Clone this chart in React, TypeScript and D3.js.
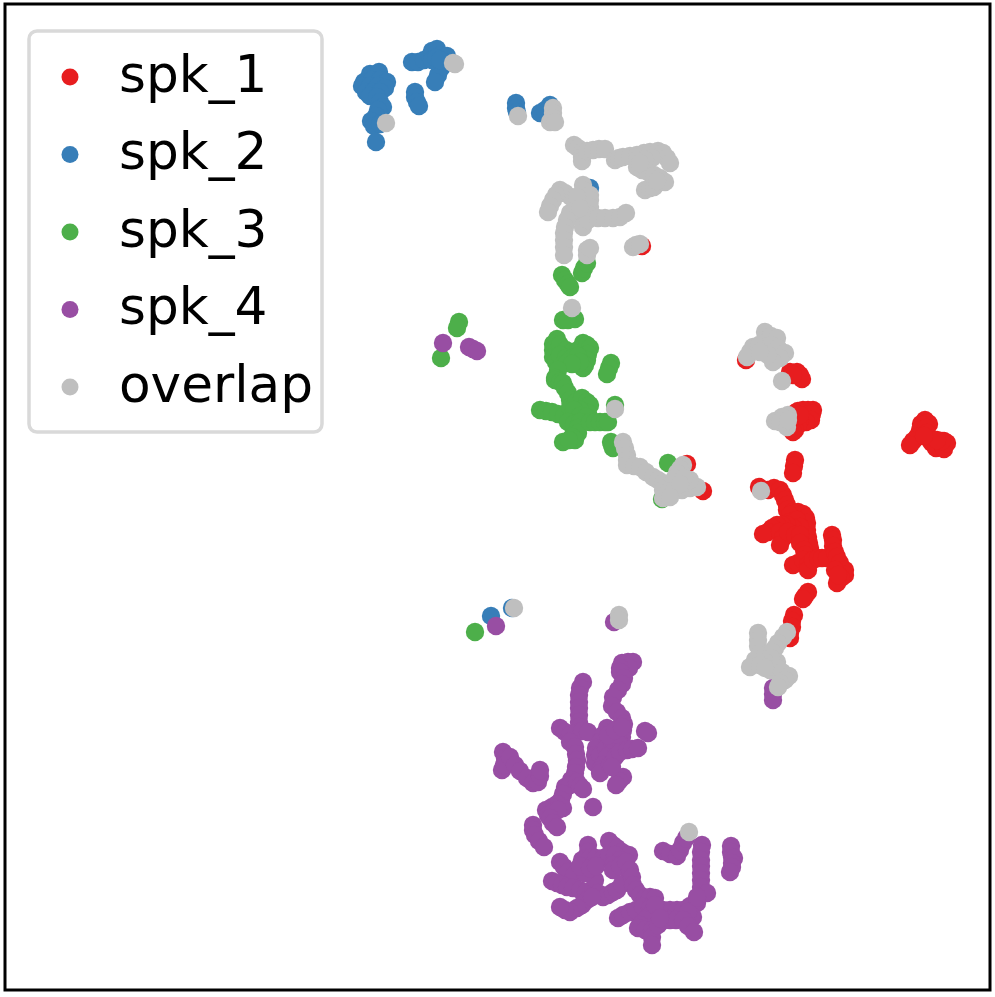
import React from "react";
import * as d3 from "d3";

type Pt = [number, number];

// embedding coordinates
const spk1: Pt[] = [
  [746,360],[790,372],[797,372],[800,375],[802,379],[793,375],
  [813,410],[808,410],[803,410],[798,411],[795,413],[806,415],[812,414],[811,420],[806,422],[800,420],[798,425],[795,430],[793,432],[800,415],[790,420],
  [795,460],[794,466],[793,473],[759,487],
  [768,490],[774,488],[780,490],[783,495],[785,500],[787,505],[787,510],[793,512],[798,512],[803,514],[806,518],[807,523],[807,530],[808,537],[809,543],[810,548],[810,555],
  [790,515],[790,522],[797,520],[800,527],[793,528],[787,525],[782,525],[777,525],[772,528],[768,532],[763,534],[780,532],[783,538],[780,545],[788,532],[795,535],[800,535],[800,543],[804,550],[805,555],
  [793,565],[798,563],[803,560],[808,565],[808,570],[813,560],[818,558],[822,558],[827,558],
  [832,535],[833,540],[833,546],[835,552],[837,557],[840,563],[845,570],[845,575],[841,578],[837,583],[835,570],[838,575],
  [808,592],[805,596],[803,599],[794,615],[792,621],[792,627],[790,633],[790,638],
  [925,420],[921,424],[929,424],[928,423],[922,425],[920,430],[926,428],[917,437],[913,441],[910,445],[927,433],[930,440],[932,443],[937,445],[936,448],[943,447],[944,449],[944,441],[947,443],[942,441],[937,440],[924,436],
  [642,246],[687,464],[703,491],
];
const spk2: Pt[] = [
  [370,74],[379,72],[364,82],[372,80],[380,80],[387,82],[362,86],[370,86],[378,86],[385,88],[366,92],[373,92],[380,92],[370,96],[377,97],[380,102],[383,107],[378,110],[376,116],[371,121],[374,126],[380,124],[376,142],
  [412,62],[418,62],[424,60],[430,56],[432,51],[437,49],[441,55],[447,56],[443,62],[441,68],[438,75],[435,82],[432,60],[436,58],[440,60],
  [415,92],[415,97],[417,102],[419,106],
  [516,103],[516,108],[517,112],[540,113],[545,110],[550,105],[590,188],[491,616],[512,608],
];
const spk3: Pt[] = [
  [459,322],[457,328],[441,358],[582,273],[584,268],[587,263],[562,275],[565,280],[568,284],[570,287],[563,320],[575,319],[568,320],
  [557,339],[553,344],[553,350],[553,357],[556,362],[560,345],[566,350],[572,352],[578,350],[583,343],[587,345],[590,348],[588,354],[587,360],[585,365],[583,368],
  [560,355],[566,358],[572,358],[578,356],[580,362],[567,363],[572,364],[558,370],[555,378],[555,380],[560,382],[563,383],[565,388],[568,393],[570,400],
  [611,363],[609,368],[607,374],
  [540,410],[546,411],[552,412],[558,414],[564,416],[570,407],[576,402],[582,398],[587,402],[590,405],[588,413],[580,410],[574,410],[580,416],[586,417],
  [568,422],[574,424],[580,422],[578,428],[578,433],[572,437],[575,440],[563,442],[569,440],[590,422],[595,422],[600,422],[605,422],[608,422],
  [615,405],[611,442],[612,445],[613,448],[668,463],[662,499],[475,632],
];
const spk4: Pt[] = [
  [443,343],[469,347],[473,349],[477,351],[496,626],[614,622],[773,688],[773,694],[773,700],
  [622,663],[628,662],[633,662],[629,668],[620,668],[620,672],[624,678],[622,684],[618,690],[613,697],[612,706],[617,712],[622,718],[624,724],[623,730],[622,737],
  [583,682],[580,688],[579,695],[579,702],[579,708],[579,715],[579,722],[579,727],
  [560,728],[565,732],[570,735],[576,733],[582,731],[588,732],[570,742],[575,747],[576,754],[577,760],[576,767],[575,773],[571,780],[565,787],[570,785],[577,782],[580,786],[583,789],
  [607,728],[603,735],[600,742],[596,748],[595,755],[595,763],[600,755],[606,748],[612,742],[618,738],[620,745],[613,752],[607,757],[603,765],[600,770],[600,773],[610,765],[615,757],[620,752],[627,750],[632,749],[638,748],[608,735],[615,730],[622,727],
  [645,731],[648,733],[623,777],[619,781],[616,785],[612,767],[593,807],
  [503,752],[505,758],[502,770],[504,765],[510,757],[515,765],[520,771],[527,778],[533,783],[538,782],[540,776],[540,770],
  [563,794],[561,800],[557,804],[552,807],[546,810],[548,815],[553,812],[563,808],[558,810],[550,818],[553,823],[557,827],
  [533,825],[533,830],[535,835],[539,841],[544,847],
  [588,845],[588,852],[609,841],[613,845],[617,848],[622,852],[629,855],[582,860],[586,858],[590,858],[596,858],[603,858],[609,855],[615,855],[560,862],[564,867],[568,872],[574,875],
  [552,881],[557,883],[562,885],[567,887],[573,888],[580,890],[586,892],[595,880],[585,873],[580,866],[590,868],[596,866],
  [603,897],[598,893],[608,895],[613,892],[617,890],[622,884],[620,860],[613,865],[613,870],[620,866],[626,862],[630,870],[632,877],[633,885],[636,890],[640,895],[645,898],[650,897],[655,898],
  [587,900],[582,905],[577,908],[570,912],[565,910],[560,907],[592,897],
  [618,918],[623,915],[630,912],[636,910],[643,907],[650,908],[657,910],[663,910],[670,910],[677,910],[683,910],[690,906],[697,903],[693,917],[688,912],
  [650,915],[645,920],[640,925],[638,928],[645,930],[652,930],[652,937],[652,945],[658,925],[664,920],[670,920],[676,920],[683,920],[688,926],[694,932],[655,905],[660,918],
  [702,845],[701,852],[701,860],[701,866],[701,873],[701,880],[701,887],[707,893],[697,897],
  [663,851],[670,854],[677,856],[680,850],[683,843],[686,838],
  [731,846],[731,852],[732,857],[734,858],[732,863],[732,867],[730,872],
];
const overlap: Pt[] = [
  [386,123],[455,64],[453,63],[518,116],[553,108],[553,113],[553,118],[550,122],[555,122],
  [574,145],[578,148],[582,152],[582,157],[582,161],[587,151],[593,150],[599,149],[605,149],
  [615,160],[619,158],[623,157],[630,156],[637,155],[644,153],[650,152],[658,151],[663,153],[667,158],[670,163],[637,160],[637,167],[642,170],[648,172],[654,175],[660,178],[665,182],[645,190],[650,188],[654,187],[657,181],[652,158],[645,160],[640,163],
  [583,185],[583,190],[583,197],[583,203],[583,210],[583,216],[583,222],[583,227],[590,195],[590,200],[590,207],[588,214],[588,220],
  [565,193],[571,197],[577,197],[560,190],[556,195],[553,200],[550,206],[548,212],
  [570,213],[575,210],[580,208],[567,220],[565,227],[564,233],[564,240],[564,247],[564,255],
  [598,218],[605,218],[613,218],[620,217],[626,213],[587,250],[587,255],[590,248],[633,247],[636,245],[640,244],[572,308],
  [615,409],[623,442],[625,448],[627,455],[627,460],[627,465],[634,466],[640,467],[646,472],[653,477],[658,480],[663,483],[668,487],[683,465],[680,469],[677,473],[675,478],[673,482],[663,490],[663,498],[668,492],[674,490],[682,490],[690,488],[697,487],[690,480],[684,478],[680,484],[670,497],
  [765,332],[765,340],[771,336],[777,338],[753,347],[750,352],[747,357],[759,345],[765,347],[771,345],[778,348],[785,353],[780,358],[773,362],[768,355],[760,352],[782,381],
  [788,415],[782,417],[775,421],[780,422],[787,427],[788,420],[761,491],
  [787,632],[783,637],[778,643],[775,648],[758,633],[758,640],[758,646],[760,653],[755,660],[750,667],[765,655],[772,652],[777,662],[771,658],[765,662],[760,665],[770,670],[777,668],[782,672],[789,676],[785,680],[780,683],[778,687],[765,668],
  [514,608],[619,615],[619,620],[689,832],
];

const seriesNames = ["spk_1", "spk_2", "spk_3", "spk_4", "overlap"];
const seriesPoints = [spk1, spk2, spk3, spk4, overlap];
const seriesColors = ["#e71d1f", "#377eb8", "#4daf4a", "#984ea3", "#bfbfbf"];

const width = 995;
const height = 997;
const frame = { left: 5, top: 4, right: 990, bottom: 990 };
const radius = 9.2;
const legendRadius = 8.5;

export default function App() {
  const x = d3.scaleLinear().domain([5, 990]).range([frame.left, frame.right]);
  const y = d3.scaleLinear().domain([4, 990]).range([frame.top, frame.bottom]);
  const color = d3.scaleOrdinal<string, string>().domain(seriesNames).range(seriesColors);
  const legendY = d3.scalePoint<string>().domain(seriesNames).range([77, 387]);

  return (
    <svg
      width={width}
      height={height}
      style={{ position: "absolute", left: 0, top: 0, background: "#fff" }}
      fontFamily="DejaVu Sans"
    >
      {seriesNames.map((name, i) => (
        <g key={name} fill={color(name)}>
          {seriesPoints[i].map((d, j) => (
            <circle key={j} cx={x(d[0])} cy={y(d[1])} r={radius} />
          ))}
        </g>
      ))}
      <rect
        x={frame.left}
        y={frame.top}
        width={frame.right - frame.left}
        height={frame.bottom - frame.top}
        fill="none"
        stroke="#000"
        strokeWidth={3}
      />
      <rect x={29} y={31} width={293} height={401} rx={8} fill="#fff" fillOpacity={0.8} stroke="#d9d9d9" strokeWidth={3.5} />
      {seriesNames.map((name) => (
        <g key={name}>
          <circle cx={70} cy={legendY(name)} r={legendRadius} fill={color(name)} />
          <text x={119} y={(legendY(name) as number) + 14.5} fontSize={51.7} fill="#000">
            {name}
          </text>
        </g>
      ))}
    </svg>
  );
}
